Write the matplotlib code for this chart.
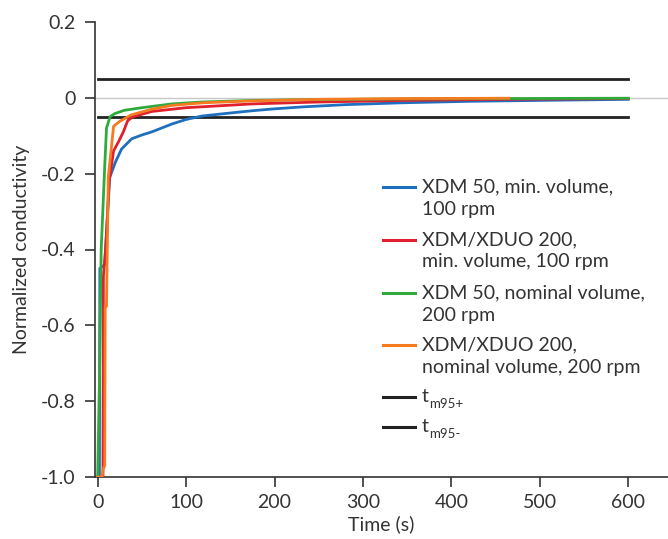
import numpy as np
import matplotlib
matplotlib.use("Agg")
import matplotlib.pyplot as plt
from matplotlib.lines import Line2D

plt.rcParams['font.family'] = ['Lato', 'DejaVu Sans']

# series (time in s, normalized conductivity)
t_blue = [0, 2, 2.5, 8, 13.6, 20, 27, 38.5, 50, 61, 84, 100, 118, 150, 175, 200, 231, 280, 345, 424, 526, 600]
v_blue = [-1.0, -1.0, -0.45, -0.44, -0.21, -0.17, -0.135, -0.108, -0.098, -0.09, -0.069, -0.057, -0.048, -0.04, -0.034, -0.029, -0.024, -0.018, -0.013, -0.009, -0.006, -0.004]

t_red = [0, 6, 6.5, 9, 13, 18, 24, 29, 34, 40, 61, 100, 175, 250, 345, 450, 600]
v_red = [-1.0, -1.0, -0.47, -0.40, -0.22, -0.14, -0.114, -0.09, -0.06, -0.05, -0.036, -0.026, -0.016, -0.011, -0.007, -0.004, -0.002]

t_green = [0, 2, 4, 6, 8, 10, 14, 19, 30, 50, 84, 118, 175, 231, 345, 450, 600]
v_green = [-1.0, -0.75, -0.40, -0.29, -0.18, -0.08, -0.05, -0.042, -0.033, -0.026, -0.016, -0.011, -0.007, -0.005, -0.003, -0.002, -0.001]

t_orange = [0, 5, 6, 8, 8.5, 10, 12, 18, 25, 38, 61, 84, 120, 175, 250, 345, 465]
v_orange = [-1.0, -1.0, -0.98, -0.97, -0.55, -0.55, -0.21, -0.075, -0.062, -0.045, -0.03, -0.02, -0.013, -0.008, -0.004, -0.002, -0.001]

labels = [["XDM 50, min. volume,", "100 rpm"],
          ["XDM/XDUO 200,", "min. volume, 100 rpm"],
          ["XDM 50, nominal volume,", "200 rpm"],
          ["XDM/XDUO 200,", "nominal volume, 200 rpm"]]
colors = ["#1f6fbf", "#e0202e", "#2eab3c", "#f57a20"]

t_limit = [0, 600]
tm95_plus = 0.05
tm95_minus = -0.05
limit_subs = ["m95+", "m95-"]

yticks = [0.2, 0, -0.2, -0.4, -0.6, -0.8, -1.0]
ytick_labels = ["0.2", "0", "-0.2", "-0.4", "-0.6", "-0.8", "-1.0"]
xticks = [0, 100, 200, 300, 400, 500, 600]

W, H = 668, 539
fig = plt.figure(figsize=(W / 100, H / 100), dpi=100)
ax = fig.add_axes([95 / W, 1 - 477 / H, 1 - 95 / W, (477 - 22) / H])

dark = "#333333"
ax.axhline(0, color="#c8c8c8", linewidth=1, zorder=1)

series = [(t_blue, v_blue), (t_red, v_red), (t_green, v_green), (t_orange, v_orange)]
for (tt, vv), col in zip(series, colors):
    ax.plot(tt, vv, color=col, linewidth=2, zorder=3)

ax.plot(t_limit, [tm95_plus, tm95_plus], color="#222222", linewidth=2, zorder=2)
ax.plot(t_limit, [tm95_minus, tm95_minus], color="#222222", linewidth=2, zorder=2)

ax.set_xlim(-3, 645)
ax.set_ylim(-1.0, 0.2)
ax.set_xticks(xticks)
ax.set_yticks(yticks)
ax.set_yticklabels(ytick_labels)
ax.tick_params(axis='both', direction='out', length=7, width=1.2, color=dark,
               labelsize=14, labelcolor=dark)
ax.tick_params(axis='y', pad=7)
ax.tick_params(axis='x', pad=5)
for s in ["top", "right"]:
    ax.spines[s].set_visible(False)
for s in ["left", "bottom"]:
    ax.spines[s].set_color(dark)
    ax.spines[s].set_linewidth(1.2)

ax.set_xlabel("Time (s)", fontsize=14, color=dark, labelpad=3)
ax.set_ylabel("Normalized conductivity", fontsize=14, color=dark, labelpad=8)

# legend drawn by hand: handle sits on the first text line, like the original
def fx(px):
    return px / W

def fy(py):
    return 1 - py / H

leg_fs = 14
row_y = [186, 239, 292, 344]
for yy, lab, col in zip(row_y, labels, colors):
    fig.add_artist(Line2D([fx(383), fx(415)], [fy(yy + 1), fy(yy + 1)], color=col, linewidth=2.2))
    for k, line in enumerate(lab):
        fig.text(fx(422), fy(yy + 6.5 + 22 * k), line, fontsize=leg_fs, color=dark, va='baseline')

for yy, sub in zip([396, 426], limit_subs):
    fig.add_artist(Line2D([fx(383), fx(415)], [fy(yy + 1), fy(yy + 1)], color="#222222", linewidth=2.2))
    fig.text(fx(422), fy(yy + 6), "t", fontsize=leg_fs, color=dark, va='baseline')
    fig.text(fx(429), fy(yy + 12), sub, fontsize=9.5, color=dark, va='baseline')

fig.savefig("out.png", dpi=100)
